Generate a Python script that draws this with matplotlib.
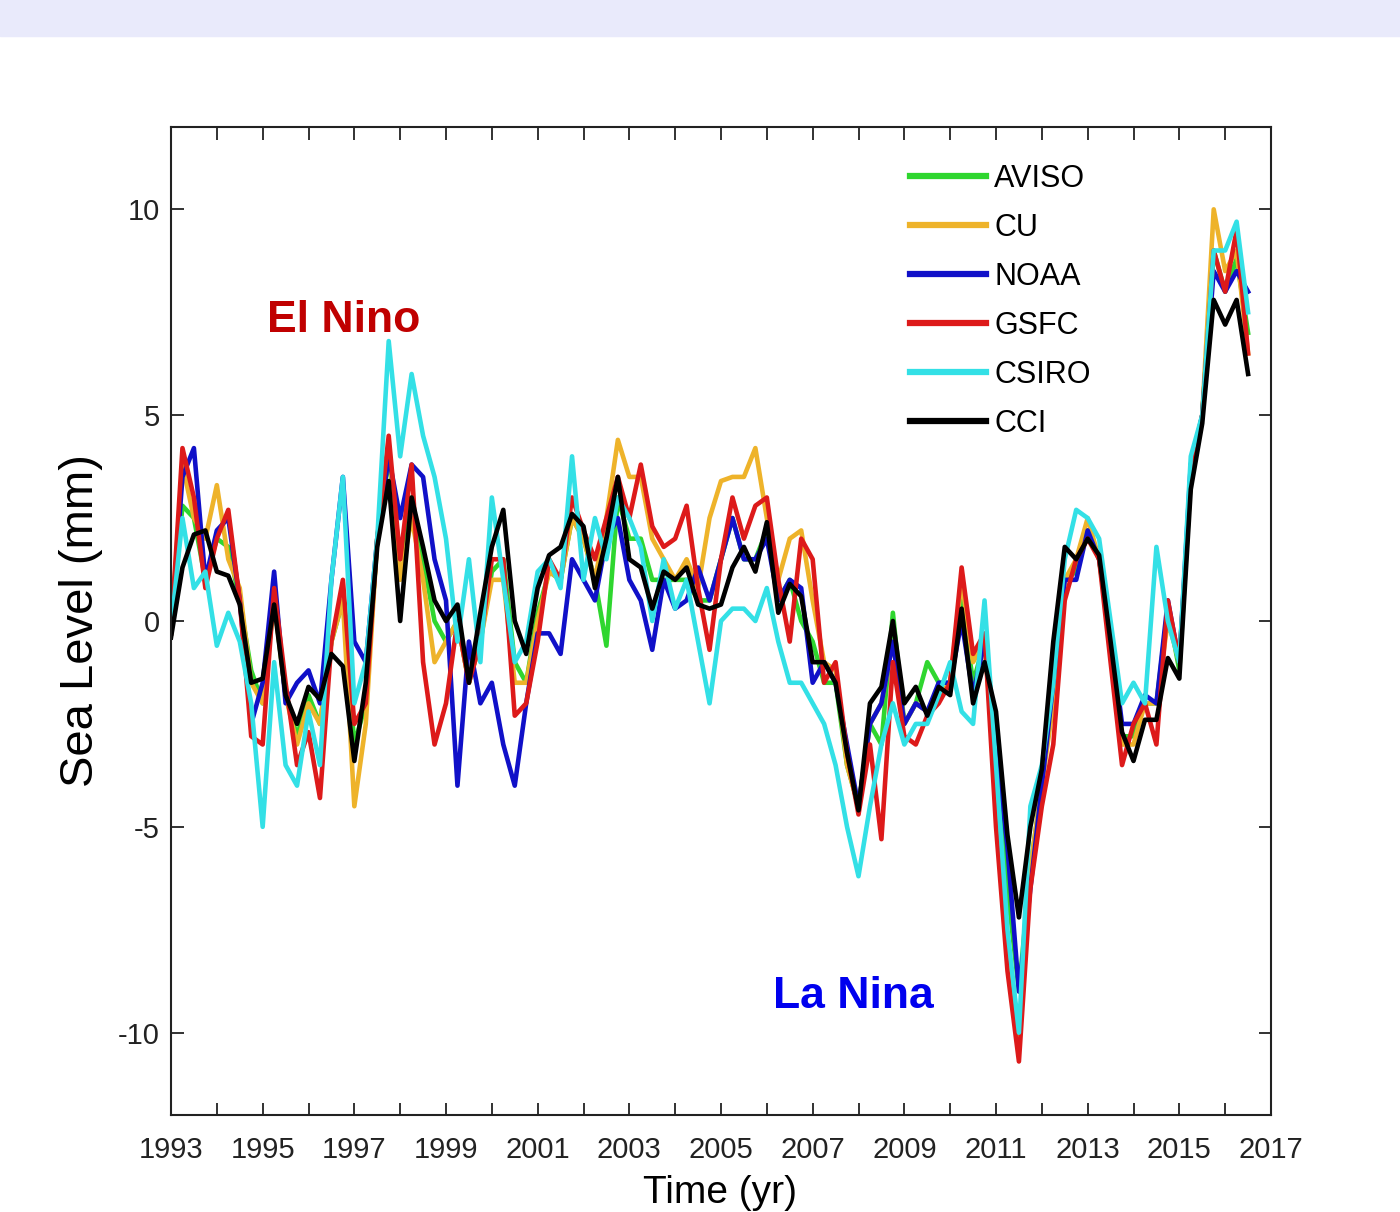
import numpy as np
import matplotlib
matplotlib.use('Agg')
import matplotlib.pyplot as plt
from matplotlib.patches import Rectangle

# quarterly samples 1993.00 ... 2016.50
years = np.arange(1993.0, 2016.51, 0.25)

aviso = [-0.3, 2.8, 2.5, 1.0,
         2.0, 1.8, 0.5, -1.2,
         -2.0, 0.5, -1.8, -2.8,
         -1.8, -2.5, -0.5, 0.5,
         -3.0, -2.0, 2.0, 4.0,
         1.5, 3.0, 1.5, 0.0,
         -0.5, 0.0, -1.5, -0.5,
         1.2, 1.5, -1.0, -1.5,
         0.2, 1.2, 1.0, 2.5,
         2.0, 1.0, -0.6, 3.0,
         2.0, 2.0, 1.0, 1.0,
         1.0, 1.0, 0.5, 0.5,
         1.5, 2.5, 1.5, 1.5,
         2.2, 0.5, 1.0, 0.0,
         -0.5, -1.5, -1.5, -3.5,
         -4.5, -2.5, -3.0, 0.2,
         -2.5, -2.0, -1.0, -1.5,
         -1.5, 0.5, -1.5, -0.5,
         -3.5, -6.5, -9.0, -6.0,
         -4.0, -1.5, 1.0, 1.2,
         2.2, 1.5, -0.5, -2.8,
         -2.8, -2.0, -2.0, 0.3,
         -1.2, 3.5, 5.0, 9.0,
         8.0, 8.8, 7.0]

cu = [-0.3, 3.8, 2.5, 2.0,
      3.3, 1.5, 0.8, -1.5,
      -2.0, 0.5, -1.8, -3.0,
      -2.0, -2.5, -0.5, 0.5,
      -4.5, -2.5, 2.0, 4.3,
      1.0, 2.5, 1.0, -1.0,
      -0.5, 0.0, -1.5, -0.5,
      1.0, 1.0, -1.5, -1.5,
      0.0, 1.2, 1.0, 2.5,
      2.0, 1.0, 2.5, 4.4,
      3.5, 3.5, 2.0, 1.5,
      1.0, 1.5, 0.8, 2.5,
      3.4, 3.5, 3.5, 4.2,
      2.5, 1.0, 2.0, 2.2,
      0.5, -1.0, -1.2, -3.5,
      -4.5, -2.5, -2.0, -0.5,
      -2.5, -2.0, -2.2, -1.8,
      -1.5, 1.0, -1.0, -0.5,
      -4.0, -8.0, -10.2, -6.0,
      -4.0, -2.0, 1.0, 1.5,
      2.5, 1.5, -0.5, -3.0,
      -3.0, -2.0, -2.0, 0.0,
      -1.0, 3.5, 5.0, 10.0,
      8.5, 9.0, 6.5]

noaa = [-0.3, 3.5, 4.2, 1.0,
        2.2, 2.5, 0.5, -2.5,
        -1.5, 1.2, -2.0, -1.5,
        -1.2, -2.0, 1.0, 3.5,
        -0.5, -1.0, 2.0, 4.0,
        2.5, 3.8, 3.5, 1.5,
        0.5, -4.0, -0.5, -2.0,
        -1.5, -3.0, -4.0, -2.0,
        -0.3, -0.3, -0.8, 1.5,
        1.0, 0.5, 2.0, 2.5,
        1.0, 0.5, -0.7, 1.0,
        0.3, 0.5, 1.3, 0.5,
        1.5, 2.5, 1.5, 1.5,
        2.0, 0.5, 1.0, 0.8,
        -1.5, -1.0, -1.5, -3.0,
        -4.5, -2.5, -2.0, -0.5,
        -2.5, -2.0, -2.2, -1.5,
        -1.5, 0.0, -1.8, -0.5,
        -3.0, -5.5, -9.0, -6.5,
        -4.0, -1.5, 1.0, 1.0,
        2.2, 1.5, -0.3, -2.5,
        -2.5, -1.8, -2.0, 0.5,
        -1.0, 3.8, 5.0, 8.5,
        8.0, 8.5, 8.0]

gsfc = [-0.3, 4.2, 3.0, 0.8,
        2.0, 2.7, 0.5, -2.8,
        -3.0, 0.8, -1.5, -3.5,
        -2.7, -4.3, -0.5, 1.0,
        -2.5, -2.0, 2.0, 4.5,
        1.5, 3.8, -1.0, -3.0,
        -2.0, 0.0, -1.5, -0.5,
        1.5, 1.5, -2.3, -2.0,
        -0.5, 1.5, 1.0, 3.0,
        2.2, 1.5, 2.5, 3.5,
        2.5, 3.8, 2.3, 1.8,
        2.0, 2.8, 0.8, -0.7,
        1.5, 3.0, 2.0, 2.8,
        3.0, 1.0, -0.5, 2.0,
        1.5, -1.5, -1.0, -3.2,
        -4.7, -3.0, -5.3, -1.0,
        -2.8, -3.0, -2.3, -2.0,
        -1.5, 1.3, -0.8, -0.3,
        -5.0, -8.5, -10.7, -6.5,
        -4.5, -3.0, 0.5, 1.5,
        2.0, 1.5, -1.0, -3.5,
        -2.5, -2.0, -3.0, 0.5,
        -1.0, 3.5, 5.0, 9.0,
        8.0, 9.5, 6.5]

csiro = [-0.2, 2.5, 0.8, 1.2,
         -0.6, 0.2, -0.5, -2.0,
         -5.0, -1.0, -3.5, -4.0,
         -2.2, -3.5, 1.0, 3.5,
         -2.0, -1.0, 2.0, 6.8,
         4.0, 6.0, 4.5, 3.5,
         2.0, -0.5, 1.5, -1.0,
         3.0, 1.0, -1.0, -0.5,
         1.2, 1.5, 0.8, 4.0,
         1.0, 2.5, 1.5, 3.0,
         2.5, 1.8, 0.0, 1.5,
         0.3, 1.0, -0.5, -2.0,
         0.0, 0.3, 0.3, 0.0,
         0.8, -0.5, -1.5, -1.5,
         -2.0, -2.5, -3.5, -5.0,
         -6.2, -4.5, -3.0, -2.0,
         -3.0, -2.5, -2.5, -1.8,
         -1.0, -2.2, -2.5, 0.5,
         -3.5, -7.5, -10.0, -4.5,
         -3.5, -1.5, 1.5, 2.7,
         2.5, 2.0, 0.0, -2.0,
         -1.5, -2.0, 1.8, 0.0,
         -1.0, 4.0, 5.0, 9.0,
         9.0, 9.7, 7.5]

cci = [-0.4, 1.3, 2.1, 2.2,
       1.2, 1.1, 0.4, -1.5,
       -1.4, 0.4, -1.8, -2.5,
       -1.6, -1.9, -0.8, -1.1,
       -3.4, -1.5, 1.8, 3.4,
       0.0, 3.0, 1.8, 0.5,
       0.0, 0.4, -1.5, 0.2,
       1.8, 2.7, 0.0, -0.8,
       0.8, 1.6, 1.8, 2.6,
       2.3, 0.8, 2.0, 3.5,
       1.5, 1.3, 0.3, 1.2,
       1.0, 1.3, 0.4, 0.3,
       0.4, 1.3, 1.8, 1.2,
       2.4, 0.2, 0.9, 0.6,
       -1.0, -1.0, -1.5, -3.2,
       -4.6, -2.0, -1.6, 0.0,
       -2.0, -1.6, -2.3, -1.6,
       -1.8, 0.3, -2.0, -1.0,
       -2.2, -5.2, -7.2, -5.0,
       -3.6, -0.5, 1.8, 1.5,
       2.0, 1.6, -0.5, -2.7,
       -3.4, -2.4, -2.4, -0.9,
       -1.4, 3.2, 4.8, 7.8,
       7.2, 7.8, 6.0]

names = ['AVISO', 'CU', 'NOAA', 'GSFC', 'CSIRO', 'CCI']
colors = ['#2fd62f', '#eeb32a', '#1010c8', '#dd1a1a', '#33e0e6', '#000000']
series = [aviso, cu, noaa, gsfc, csiro, cci]

fam = ['Liberation Sans', 'DejaVu Sans']
plt.rcParams['font.family'] = fam
plt.rcParams['axes.unicode_minus'] = False

fig = plt.figure(figsize=(14, 12.12), dpi=100)
# lavender strip at the top
fig.patches.append(Rectangle((0, 1 - 36 / 1212), 1, 36 / 1212,
                             transform=fig.transFigure, color='#e9eafb', zorder=0))

ax = fig.add_axes([171 / 1400, 97 / 1212, 1100 / 1400, 988 / 1212])

for name, vals, c in zip(names, series, colors):
    ax.plot(years, vals, color=c, lw=3.3, label=name)

ax.set_xlim(1993, 2017)
ax.set_ylim(-12, 12)
ax.set_xticks(np.arange(1993, 2018))
ax.set_xticklabels([str(y) if (y - 1993) % 2 == 0 else '' for y in range(1993, 2018)])
ax.set_yticks([-10, -5, 0, 5, 10])
ax.tick_params(direction='in', length=9, width=1.3, top=True, right=True,
               colors='#222222', labelsize=21)
ax.tick_params(axis='x', pad=15)
ax.tick_params(axis='y', pad=8)
for sp in ax.spines.values():
    sp.set_linewidth(1.5)
    sp.set_color('#222222')

ax.set_ylabel('Sea Level (mm)', fontsize=34)
ax.yaxis.set_label_coords(-0.062, 0.5)
fig.text(720 / 1400, 1 - 1211 / 1212, 'Time (yr)', fontsize=28,
         ha='center', va='bottom')

leg = ax.legend(loc='upper left', bbox_to_anchor=(910 / 1400, 1 - 164 / 1212),
                bbox_transform=fig.transFigure, frameon=False, borderaxespad=0,
                borderpad=0, handlelength=2.5, handletextpad=0.25,
                labelspacing=0.62, prop={'size': 22})
for ln in leg.get_lines():
    ln.set_linewidth(4.5)

ax.text(344 / 1400, 1 - 320 / 1212, 'El Nino', transform=fig.transFigure,
        color='#c00000', fontsize=32, fontweight='bold',
        ha='center', va='center')
ax.text(853 / 1400, 1 - 997 / 1212, 'La Nina', transform=fig.transFigure,
        color='#0000ee', fontsize=32, fontweight='bold',
        ha='center', va='center')

fig.savefig('out.png', dpi=100)
